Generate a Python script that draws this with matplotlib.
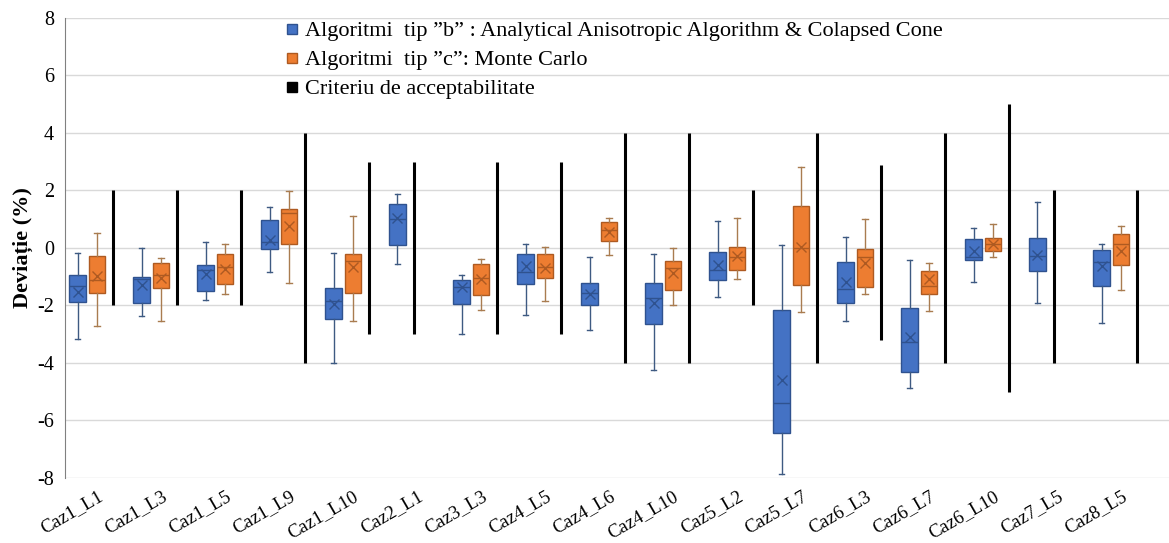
import numpy as np
import matplotlib
matplotlib.use('Agg')
import matplotlib.pyplot as plt
from matplotlib.lines import Line2D

plt.rcParams['font.family'] = ['Liberation Serif', 'DejaVu Serif']
plt.rcParams['axes.unicode_minus'] = False

categories = ['Caz1_L1', 'Caz1_L3', 'Caz1_L5', 'Caz1_L9', 'Caz1_L10', 'Caz2_L1',
              'Caz3_L3', 'Caz4_L5', 'Caz4_L6', 'Caz4_L10', 'Caz5_L2', 'Caz5_L7',
              'Caz6_L3', 'Caz6_L7', 'Caz6_L10', 'Caz7_L5', 'Caz8_L5']

# algoritmi tip "b" (albastru)
b_lo = [-3.18, -2.35, -1.81, -0.85, -3.99, -0.57, -3.00, -2.33, -2.85, -4.24, -1.72, -7.86, -2.54, -4.88, -1.17, -1.90, -2.62]
b_q1 = [-1.89, -1.92, -1.50, -0.05, -2.46, 0.10, -1.95, -1.26, -2.00, -2.66, -1.11, -6.45, -1.92, -4.30, -0.42, -0.80, -1.31]
b_med = [-1.32, -1.08, -0.77, 0.20, -1.84, 1.00, -1.35, -0.85, -1.55, -1.73, -0.78, -5.40, -1.44, -3.28, -0.32, -0.28, -0.48]
b_q3 = [-0.94, -1.00, -0.59, 0.97, -1.40, 1.52, -1.11, -0.21, -1.23, -1.21, -0.15, -2.16, -0.48, -2.10, 0.30, 0.35, -0.07]
b_hi = [-0.16, 0.00, 0.20, 1.44, -0.16, 1.87, -0.94, 0.14, -0.30, -0.21, 0.95, 0.10, 0.39, -0.42, 0.68, 1.59, 0.14]
b_mean = [-1.52, -1.29, -0.90, 0.28, -1.96, 1.03, -1.37, -0.62, -1.61, -1.92, -0.59, -4.59, -1.17, -3.11, -0.09, -0.24, -0.62]

# algoritmi tip "c" (portocaliu), None = lipsa
c_lo = [-2.71, -2.54, -1.61, -1.23, -2.54, None, -2.16, -1.84, -0.24, -2.00, -1.08, -2.23, -1.61, -2.18, -0.30, None, -1.46]
c_q1 = [-1.58, -1.40, -1.26, 0.13, -1.58, None, -1.63, -1.06, 0.23, -1.46, -0.77, -1.30, -1.35, -1.61, -0.09, None, -0.59]
c_med = [-1.11, -0.94, -0.67, 1.21, -0.45, None, -1.03, -0.65, 0.63, -0.68, -0.30, 0.01, -0.30, -1.32, 0.14, None, 0.14]
c_q3 = [-0.28, -0.53, -0.21, 1.36, -0.21, None, -0.56, -0.21, 0.90, -0.46, 0.02, 1.46, -0.05, -0.79, 0.36, None, 0.48]
c_hi = [0.53, -0.36, 0.14, 1.99, 1.12, None, -0.39, 0.05, 1.03, -0.01, 1.03, 2.83, 1.01, -0.53, 0.82, None, 0.78]
c_mean = [-0.97, -1.03, -0.74, 0.77, -0.67, None, -1.08, -0.68, 0.57, -0.88, -0.28, 0.05, -0.51, -1.08, 0.14, None, -0.10]

# criteriu de acceptabilitate
crit_lo = [-2, -2, -2, -4, -3, -3, -3, -3, -4, -4, -2, -4, -3.2, -4, -5, -4, -4]
crit_hi = [2, 2, 2, 4, 3, 3, 3, 3, 4, 4, 2, 4, 2.9, 4, 5, 2, 2]

blue, blue_dk = '#4472C4', '#2F528F'
orange, orange_dk = '#ED7D31', '#AE5A21'

fig = plt.figure(figsize=(11.69, 5.43), dpi=100)
ax = fig.add_axes([0.0556, 0.1197, 0.9444, 0.8472])

x = np.arange(len(categories))
has_c = np.array([v is not None for v in c_med])
pos_b = np.where(has_c, x - 0.30, x - 0.31)
pos_crit = np.where(has_c, x + 0.245, x - 0.05)


def stats(lo, q1, med, q3, hi, mean):
    out = []
    for i in range(len(lo)):
        if lo[i] is None:
            continue
        out.append(dict(whislo=lo[i], q1=q1[i], med=med[i], q3=q3[i],
                        whishi=hi[i], mean=mean[i], fliers=[]))
    return out


def draw(st, pos, fc, ec, wc):
    ax.bxp(st, positions=pos, widths=0.265, patch_artist=True, showmeans=True,
           showfliers=False, capwidths=0.08, manage_ticks=False,
           boxprops=dict(facecolor=fc, edgecolor=ec, linewidth=1),
           medianprops=dict(color=ec, linewidth=1),
           whiskerprops=dict(color=wc, linewidth=1),
           capprops=dict(color=wc, linewidth=1),
           meanprops=dict(marker='x', markeredgecolor=ec, markersize=7,
                          markeredgewidth=1))


draw(stats(b_lo, b_q1, b_med, b_q3, b_hi, b_mean), pos_b, blue, blue_dk, '#3E5A82')
draw(stats(c_lo, c_q1, c_med, c_q3, c_hi, c_mean), x[has_c], orange, orange_dk, '#A97C50')
ax.vlines(pos_crit, crit_lo, crit_hi, color='black', lw=2.2, zorder=3)

ax.set_xlim(-0.5, 16.75)
ax.set_ylim(-8, 8)
ax.set_yticks(np.arange(-8, 9, 2))
ax.grid(axis='y', color='#D9D9D9', lw=1)
ax.set_axisbelow(True)
for s in ['top', 'right', 'bottom']:
    ax.spines[s].set_visible(False)
ax.spines['left'].set_color('#808080')
ax.tick_params(axis='both', length=0)
ax.tick_params(axis='y', pad=8, labelsize=14.5)
ax.set_xticks(x)
ax.set_xticklabels(categories, rotation=30, ha='right', rotation_mode='anchor')
ax.tick_params(axis='x', pad=7, labelsize=13.5)
ax.set_ylabel('Deviație (%)', fontsize=16, fontweight='bold', labelpad=3)

handles = [Line2D([], [], ls='none', marker='s', markersize=7, markerfacecolor=blue, markeredgecolor=blue_dk),
           Line2D([], [], ls='none', marker='s', markersize=7, markerfacecolor=orange, markeredgecolor=orange_dk),
           Line2D([], [], ls='none', marker='s', markersize=7, markerfacecolor='black', markeredgecolor='black')]
labels = ['Algoritmi  tip ”b” : Analytical Anisotropic Algorithm & Colapsed Cone',
          'Algoritmi  tip ”c”: Monte Carlo',
          'Criteriu de acceptabilitate']
fig.legend(handles, labels, loc='upper left', bbox_to_anchor=(278 / 1169, 1 - 12 / 543),
           frameon=False, fontsize=16, handlelength=0.5, handletextpad=0.3,
           labelspacing=0.38, borderaxespad=0)

fig.savefig('out.png', dpi=100)
